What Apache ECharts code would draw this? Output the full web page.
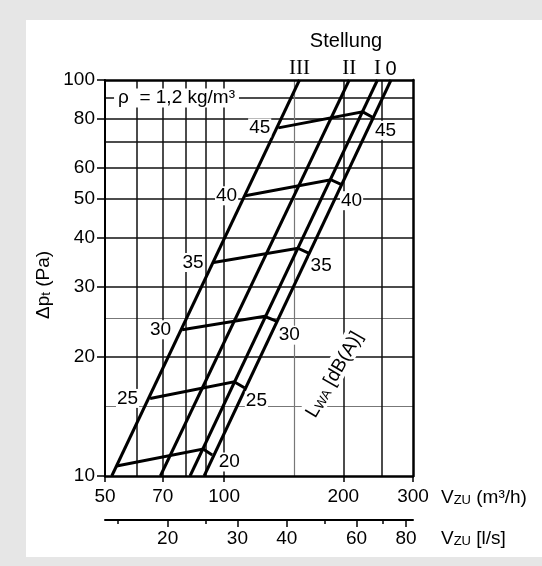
<!DOCTYPE html>
<html>
<head>
<meta charset="utf-8">
<script src="https://cdn.jsdelivr.net/npm/echarts@6/dist/echarts.min.js"></script>
<style>
html,body{margin:0;padding:0;background:#e6e6e6;}
#wrap{position:relative;width:542px;height:566px;background:#e6e6e6;overflow:hidden;}
#panel{position:absolute;left:26px;top:20px;width:516px;height:537px;background:#ffffff;}
#chart{position:absolute;left:0;top:0;width:542px;height:566px;}
</style>
</head>
<body>
<div id="wrap"><div id="panel"></div><div id="chart"></div></div>
<script>
// ---------- data ----------
const xTickLabels = [50, 70, 100, 200, 300];          // V_ZU m³/h
const xGridDark = [60, 70, 80, 90, 100, 200, 250];
const xGridLight = [150];
const yTickLabels = [10, 20, 30, 40, 50, 60, 80, 100]; // Δp_t Pa
const yGridDark = [20, 30, 40, 50, 60, 70, 80, 90];
const yGridLight = [15, 25];
const lsTickLabels = [20, 30, 40, 60, 80];            // V_ZU l/s
const lsMinorTicks = [15, 25, 50, 70];

const stellungNames = ['III', 'II', 'I', '0'];
const stellungFlowAt10Pa = [52, 69, 82, 89];
const stellungFlowAt100Pa = [155, 207, 244, 264];

const dbLevels = [45, 40, 35, 30, 25, 20];
const dbStartFlow = [137, 113, 94, 78.3, 65, 53.5];
const dbStartPressure = [75.7, 51.0, 34.6, 23.4, 15.7, 10.6];
const dbKneeFlow = [224, 186, 153.6, 126.5, 106, 88.5];
const dbKneePressure = [83.1, 56.0, 37.6, 25.3, 17.3, 11.7];
const dbEndFlow = [237, 198, 164, 135.5, 112.5, 93.3];
const dbEndPressure = [80.5, 54.4, 36.5, 24.6, 16.7, 11.3];
const dbLeftLabelShown = [true, true, true, true, true, false];

const rhoText = 'ρ  = 1,2 kg/m³';
const rhoAnchor = [52.7, 90];
const lwaAnchor = [188.6, 18.1];

const M3H_PER_LS = 3.6;
const X_MIN = 50, X_MAX = 300, Y_MIN = 10, Y_MAX = 100;

// ---------- styles ----------
const FONT = '"Liberation Sans", Arial, sans-serif';
const SERIF = '"Liberation Serif", "Times New Roman", serif';
const FS = 19;
const leftLabelDistance = [7, 7, 9, 10, 11, 8];
const rightLabelOffset = [[13, 13], [10, 16], [12, 12], [13, 14], [12, 13], [17, 7]];

const chart = echarts.init(document.getElementById('chart'), null, {renderer: 'canvas'});

function baseLog(min, max, extra) {
  return Object.assign({
    type: 'log', logBase: 10, min: min, max: max, gridIndex: 0,
    axisLine: {show: false, onZero: false},
    axisTick: {show: false},
    axisLabel: {show: false},
    splitLine: {show: false},
    minorTick: {show: false},
    minorSplitLine: {show: false},
    silent: true
  }, extra);
}
const fmt = v => String(Math.round(v));

const xAxes = [
  baseLog(X_MIN, X_MAX, {
    position: 'bottom',
    axisLine: {show: true, onZero: false, lineStyle: {color: '#000', width: 2.5}},
    axisTick: {show: true, customValues: xTickLabels, length: 6, lineStyle: {color: '#000', width: 1.5}},
    axisLabel: {show: true, customValues: xTickLabels, formatter: fmt, margin: 11, color: '#000',
      fontSize: FS, fontFamily: FONT, showMinLabel: true, showMaxLabel: true, hideOverlap: false}
  }),
  baseLog(X_MIN, X_MAX, {
    position: 'bottom',
    axisTick: {show: false, customValues: xGridDark},
    splitLine: {show: true, lineStyle: {color: '#111', width: 1.5}}
  }),
  baseLog(X_MIN, X_MAX, {
    position: 'bottom',
    axisTick: {show: false, customValues: xGridLight},
    splitLine: {show: true, lineStyle: {color: '#777', width: 1.2}}
  }),
  baseLog(X_MIN, X_MAX, {
    position: 'top',
    axisLine: {show: true, onZero: false, lineStyle: {color: '#000', width: 2.5}}
  }),
  baseLog(X_MIN / M3H_PER_LS, X_MAX / M3H_PER_LS, {
    position: 'bottom', offset: 44,
    axisLine: {show: true, onZero: false, lineStyle: {color: '#000', width: 2}},
    axisTick: {show: true, customValues: lsTickLabels, length: 7, lineStyle: {color: '#000', width: 1.5}},
    axisLabel: {show: true, customValues: lsTickLabels, formatter: fmt, margin: 9, color: '#000',
      fontSize: FS, fontFamily: FONT, hideOverlap: false}
  }),
  baseLog(X_MIN / M3H_PER_LS, X_MAX / M3H_PER_LS, {
    position: 'bottom', offset: 44,
    axisTick: {show: true, customValues: lsMinorTicks, length: 4, lineStyle: {color: '#000', width: 1.5}}
  })
];

const yAxes = [
  baseLog(Y_MIN, Y_MAX, {
    position: 'left',
    axisLine: {show: true, onZero: false, lineStyle: {color: '#000', width: 2}},
    axisTick: {show: true, customValues: yTickLabels, length: 8, lineStyle: {color: '#000', width: 1.5}},
    axisLabel: {show: true, customValues: yTickLabels, formatter: fmt, margin: 10, color: '#000',
      fontSize: FS, fontFamily: FONT, showMinLabel: true, showMaxLabel: true, hideOverlap: false}
  }),
  baseLog(Y_MIN, Y_MAX, {
    position: 'left',
    axisTick: {show: false, customValues: yGridDark},
    splitLine: {show: true, lineStyle: {color: '#111', width: 1.5}}
  }),
  baseLog(Y_MIN, Y_MAX, {
    position: 'left',
    axisTick: {show: false, customValues: yGridLight},
    splitLine: {show: true, lineStyle: {color: '#777', width: 1.2}}
  }),
  baseLog(Y_MIN, Y_MAX, {
    position: 'right',
    axisLine: {show: true, onZero: false, lineStyle: {color: '#000', width: 2.5}}
  })
];

const series = [];
const lineCommon = {
  type: 'line', xAxisIndex: 0, yAxisIndex: 0, symbol: 'none', silent: true,
  animation: false, z: 3,
  lineStyle: {color: '#000', width: 3, join: 'miter', cap: 'butt'}
};
stellungNames.forEach((name, i) => {
  series.push(Object.assign({}, lineCommon, {
    name: 'Stellung ' + name,
    data: [[stellungFlowAt10Pa[i], Y_MIN], [stellungFlowAt100Pa[i], Y_MAX]]
  }));
});
dbLevels.forEach((lvl, j) => {
  series.push(Object.assign({}, lineCommon, {
    name: lvl + ' dB(A)',
    data: [[dbStartFlow[j], dbStartPressure[j]], [dbKneeFlow[j], dbKneePressure[j]], [dbEndFlow[j], dbEndPressure[j]]]
  }));
});

const labelBase = {show: true, color: '#000', opacity: 1, fontSize: FS, fontFamily: FONT};
const labelData = [];
stellungNames.forEach((name, i) => {
  labelData.push({
    value: [stellungFlowAt100Pa[i], Y_MAX],
    label: Object.assign({}, labelBase, {
      formatter: name, position: 'top', distance: 1, fontSize: name === '0' ? 20 : 21,
      fontFamily: name === '0' ? FONT : SERIF
    })
  });
});
dbLevels.forEach((lvl, j) => {
  if (dbLeftLabelShown[j]) {
    labelData.push({
      value: [dbStartFlow[j], dbStartPressure[j]],
      label: Object.assign({}, labelBase, {
        formatter: String(lvl), position: 'left', distance: leftLabelDistance[j],
        backgroundColor: '#fff', padding: [0, 1]
      })
    });
  }
  labelData.push({
    value: [dbEndFlow[j], dbEndPressure[j]],
    label: Object.assign({}, labelBase, {
      formatter: String(lvl), position: rightLabelOffset[j], align: 'center', verticalAlign: 'middle',
      backgroundColor: '#fff', padding: [0, 1]
    })
  });
});
labelData.push({
  value: rhoAnchor,
  label: Object.assign({}, labelBase, {
    formatter: rhoText, position: 'right', distance: 0,
    backgroundColor: '#fff', padding: [0, 4]
  })
});
labelData.push({
  value: lwaAnchor,
  label: Object.assign({}, labelBase, {
    formatter: '{a|L}{b|WA}{a| [dB(A)]}', position: [0, 0], align: 'center', verticalAlign: 'middle', rotate: 60,
    backgroundColor: '#fff', padding: [0, 2],
    rich: {
      a: {fontSize: FS, fontFamily: FONT, color: '#000', lineHeight: 22, verticalAlign: 'bottom'},
      b: {fontSize: 13, fontFamily: FONT, color: '#000', lineHeight: 10, verticalAlign: 'bottom'}
    }
  })
});
series.push({
  type: 'scatter', name: 'labels', xAxisIndex: 0, yAxisIndex: 0,
  symbol: 'circle', symbolSize: 0, itemStyle: {color: '#000', opacity: 1},
  silent: true, animation: false, clip: false, z: 6,
  emphasis: {disabled: true},
  labelLayout: {hideOverlap: false},
  data: labelData
});

const subRich = {
  a: {fontSize: FS, fontFamily: FONT, color: '#000', lineHeight: 22, verticalAlign: 'bottom'},
  b: {fontSize: 13, fontFamily: FONT, color: '#000', lineHeight: 10, verticalAlign: 'bottom'}
};

const option = {
  backgroundColor: 'transparent',
  animation: false,
  textStyle: {fontFamily: FONT},
  grid: {left: 105, top: 80, width: 308, height: 396, containLabel: false, outerBoundsMode: 'none', show: false},
  xAxis: xAxes,
  yAxis: yAxes,
  graphic: {elements: [
    {type: 'text', silent: true, x: 346, y: 41,
     style: {text: 'Stellung', fontSize: 20, fontFamily: FONT, fill: '#000', align: 'center', verticalAlign: 'middle'}},
    {type: 'text', silent: true, x: 441, y: 496,
     style: {text: '{a|V}{b|ZU}{a| (m³/h)}', rich: subRich, fill: '#000', align: 'left', verticalAlign: 'middle'}},
    {type: 'text', silent: true, x: 441, y: 537,
     style: {text: '{a|V}{b|ZU}{a| [l/s]}', rich: subRich, fill: '#000', align: 'left', verticalAlign: 'middle'}},
    {type: 'text', silent: true, x: 42, y: 285, rotation: Math.PI / 2,
     style: {text: '{a|Δp}{b|t}{a| (Pa)}', rich: subRich, fill: '#000', align: 'center', verticalAlign: 'middle'}}
  ]},
  series: series
};
chart.setOption(option);
</script>
</body>
</html>
